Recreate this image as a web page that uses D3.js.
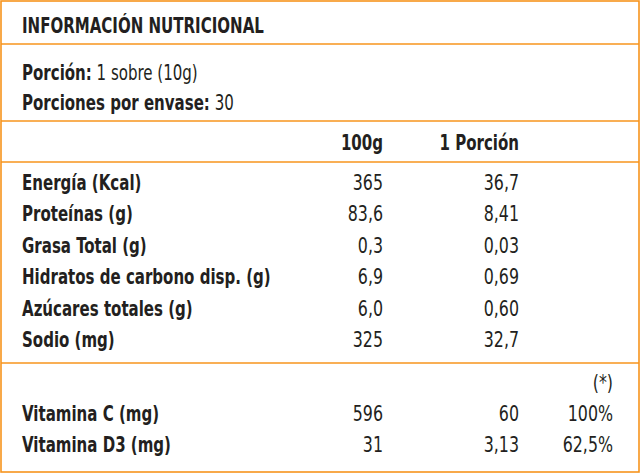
<!DOCTYPE html>
<html>
<head>
<meta charset="utf-8">
<script src="https://cdn.jsdelivr.net/npm/d3@7"></script>
<style>
body { margin: 0; background: #fff; }
text { font-family: "Liberation Sans Narrow", "DejaVu Sans Condensed", "Roboto", sans-serif; font-size: 22px; fill: #231f20; }
.b { font-weight: bold; }
</style>
</head>
<body>
<svg id="chart" width="641" height="474"></svg>
<script>
// table data
var title = 'INFORMACIÓN NUTRICIONAL';
var servingLabels = ['Porción:', 'Porciones por envase:'];
var servingValues = [' 1 sobre (10g)', ' 30'];
var columns = ['100g', '1 Porción'];
var nutrients = ['Energía (Kcal)', 'Proteínas (g)', 'Grasa Total (g)', 'Hidratos de carbono disp. (g)', 'Azúcares totales (g)', 'Sodio (mg)'];
var per100 = ['365', '83,6', '0,3', '6,9', '6,0', '325'];
var perPortion = ['36,7', '8,41', '0,03', '0,69', '0,60', '32,7'];
var vitamins = ['Vitamina C (mg)', 'Vitamina D3 (mg)'];
var vitPer100 = ['596', '31'];
var vitPerPortion = ['60', '3,13'];
var vitPct = ['100%', '62,5%'];

var svg = d3.select('#chart'),
	orange = '#f7941d',
	colX = [383, 519, 613],
	sxBold = 0.76, sxReg = 0.8;

// condensed look: squeeze each text horizontally
function label(x, y, str, bold, anchor) {
	return svg.append('text').attr('class', bold ? 'b' : null)
		.attr('transform', 'translate(' + x + ',' + y + ') scale(' + (bold ? sxBold : sxReg) + ',1)')
		.attr('text-anchor', anchor || 'start').text(str);
}

// borders and separators
svg.append('rect').attr('x', 1).attr('y', 1).attr('width', 638).attr('height', 471)
	.style('fill', 'none').style('stroke', orange).style('stroke-width', 1.6);
[44, 121, 162, 363].forEach(function (y) {
	svg.append('line').attr('x1', 1).attr('x2', 639).attr('y1', y).attr('y2', y)
		.style('stroke', orange).style('stroke-width', 1.6);
});

label(22, 33, title, true);

servingLabels.forEach(function (d, i) {
	var t = svg.append('text').attr('transform', 'translate(22,' + (80 + i * 30) + ') scale(' + sxBold + ',1)');
	t.append('tspan').attr('class', 'b').text(d);
	t.append('tspan').attr('textLength', null).text(servingValues[i]);
});

columns.forEach(function (c, i) { label(colX[i], 150, c, true, 'end'); });

var y = d3.scalePoint().domain(nutrients).range([190, 347]);
nutrients.forEach(function (d, i) {
	label(22, y(d), d, true);
	label(colX[0], y(d), per100[i], false, 'end');
	label(colX[1], y(d), perPortion[i], false, 'end');
});

label(colX[2], 390, '(*)', false, 'end');

var yv = d3.scalePoint().domain(vitamins).range([421, 452]);
vitamins.forEach(function (d, i) {
	label(22, yv(d), d, true);
	[vitPer100, vitPerPortion, vitPct].forEach(function (arr, c) {
		label(colX[c], yv(d), arr[i], false, 'end');
	});
});
</script>
</body>
</html>
